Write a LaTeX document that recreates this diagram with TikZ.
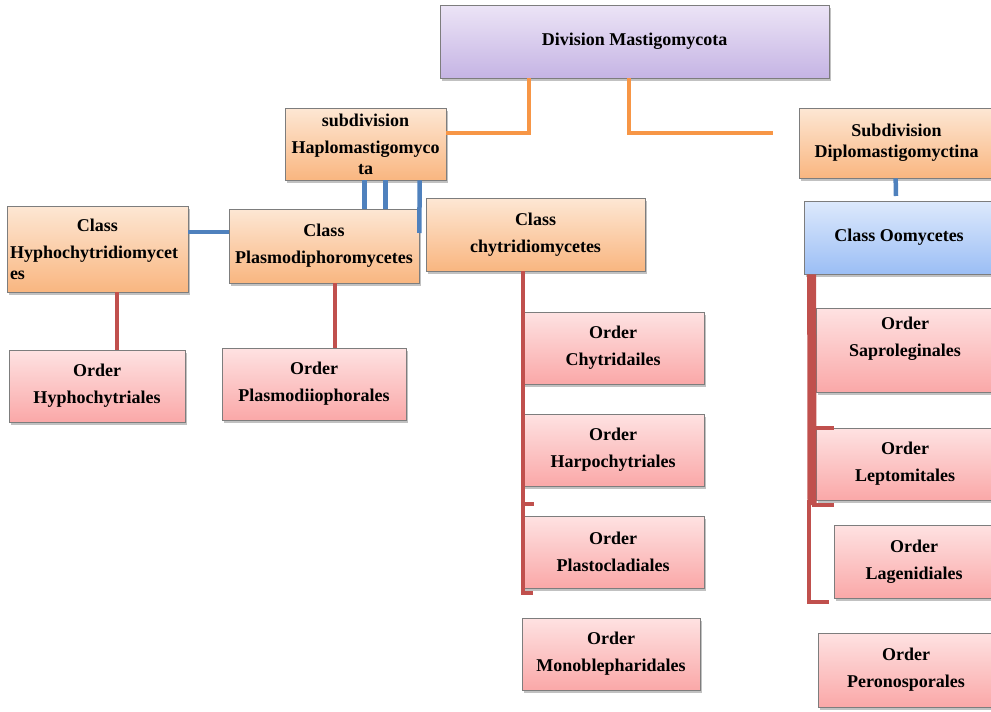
\documentclass[tikz,border=0pt]{standalone}
\usepackage{fontspec}
\setmainfont{Liberation Serif}
\usetikzlibrary{shadows}
\definecolor{orgtop}{RGB}{253,231,212}
\definecolor{orgbot}{RGB}{249,182,128}
\definecolor{pnktop}{RGB}{254,226,226}
\definecolor{pnkbot}{RGB}{250,168,168}
\definecolor{blutop}{RGB}{221,233,252}
\definecolor{blubot}{RGB}{155,190,245}
\definecolor{purtop}{RGB}{236,228,246}
\definecolor{purbot}{RGB}{197,180,228}
\definecolor{orgline}{RGB}{247,150,70}
\definecolor{bluline}{RGB}{79,129,189}
\definecolor{redline}{RGB}{192,80,77}
\definecolor{boxedge}{RGB}{125,125,125}
\begin{document}
\begin{tikzpicture}[x=1pt,y=-1pt,
  box/.style={draw=boxedge, line width=0.7pt, font=\bfseries\fontsize{18}{27}\selectfont,
    align=center, inner sep=2pt,
    drop shadow={shadow xshift=2pt, shadow yshift=-2.5pt, opacity=0.35, fill=black!70}},
  obox/.style={box, top color=orgtop, bottom color=orgbot},
  pbox/.style={box, top color=pnktop, bottom color=pnkbot},
  bbox/.style={box, top color=blutop, bottom color=blubot},
  vbox/.style={box, top color=purtop, bottom color=purbot},
  oline/.style={draw=orgline, line width=4pt},
  bline/.style={draw=bluline, line width=4.5pt},
  rline/.style={draw=redline, line width=4pt},
  rthick/.style={draw=redline, line width=9pt}]
\useasboundingbox (0,0) rectangle (991,712);

% top level
\node[vbox, minimum width=389pt, minimum height=73pt] (div) at (634.5,41.5) {Division Mastigomycota};
\node[obox, minimum width=161pt, minimum height=72pt] (hap) at (365.5,144) {subdivision\\Haplomastigomyco\\[-6pt]ta};
\node[obox, minimum width=195pt, minimum height=70pt] (dip) at (896.5,143) {Subdivision\\[-6pt]Diplomastigomyctina};

% classes
\node[obox, minimum width=181pt, minimum height=86pt, text width=175pt, align=left, inner xsep=3pt] (hyp) at (97.5,249) {\hfil Class\hfil\\Hyphochytridiomycet\\[-6pt]es};
\node[obox, minimum width=190pt, minimum height=74pt] (pla) at (324,246) {Class\\Plasmodiphoromycetes};
\node[obox, minimum width=219pt, minimum height=73pt] (chy) at (535.5,234.5) {Class\\chytridiomycetes};
\node[bbox, minimum width=190pt, minimum height=73pt] (oom) at (899,237.5) {Class Oomycetes};

% orders
\node[pbox, minimum width=176pt, minimum height=72pt] (oh) at (97,386) {Order\\Hyphochytriales};
\node[pbox, minimum width=184pt, minimum height=72pt] (op) at (314,384) {Order\\Plasmodiiophorales};
\node[pbox, minimum width=182pt, minimum height=72pt] (oc1) at (613,348) {Order\\Chytridailes};
\node[pbox, minimum width=182pt, minimum height=72pt] (oc2) at (613,450) {Order\\Harpochytriales};
\node[pbox, minimum width=182pt, minimum height=72pt] (oc3) at (613,552) {Order\\Plastocladiales};
\node[pbox, minimum width=178pt, minimum height=72pt] (oc4) at (611,654) {Order\\Monoblepharidales};
\node[pbox, minimum width=178pt, minimum height=84pt] (oo1) at (905,350) {Order\\Saproleginales\\\mbox{}};
\node[pbox, minimum width=178pt, minimum height=72pt] (oo2) at (905,464) {Order\\Leptomitales};
\node[pbox, minimum width=160pt, minimum height=73pt] (oo3) at (914,561.5) {Order\\Lagenidiales};
\node[pbox, minimum width=176pt, minimum height=74pt] (oo4) at (906,670) {Order\\Peronosporales};

% free ends
\coordinate (oend) at (773,133);
\coordinate (dend) at (896,196);
\coordinate (cend) at (533,593);
\coordinate (ct1) at (523,504);
\coordinate (ct2) at (534,504);
\coordinate (ob) at (812,505);
\coordinate (ot1) at (812,428);
\coordinate (ot1e) at (834,428);
\coordinate (ot2e) at (834,505);
\coordinate (ob2) at (809,500);
\coordinate (oend2) at (829,602);

% orange connectors
\draw[oline] ([xshift=89pt]div.south west) |- ([yshift=11pt]hap.east);
\draw[oline] ([xshift=189pt]div.south west) |- (oend);

% blue connectors
\draw[bline] ([xshift=80pt]hap.south west) -- ([xshift=80pt]hap.south west |- pla.north);
\draw[bline] ([xshift=101pt]hap.south west) -- ([xshift=101pt]hap.south west |- pla.north);
\draw[bline] ([xshift=135pt]hap.south west) -- ([yshift=13pt]pla.east);
\draw[bline] ([yshift=17pt]hyp.east) -- ([yshift=17pt]hyp.east -| pla.west);
\draw[bline] ([xshift=97pt]dip.south west) -- (dend);

% red connectors
\draw[rline] ([xshift=110pt]hyp.south west) -- ([xshift=110pt]hyp.south west |- oh.north);
\draw[rline] ([xshift=106pt]pla.south west) -- ([xshift=106pt]pla.south west |- op.north);
\draw[rline] ([xshift=97pt]chy.south west) |- (cend);
\draw[rline] (ct1) -- (ct2);
\draw[rthick] ([xshift=8pt]oom.south west) -- (ob);
\draw[rline] (ot1) -- (ot1e);
\draw[rline] (ob) -- (ot2e);
\draw[rline] (ob2) |- (oend2);
\end{tikzpicture}
\end{document}
